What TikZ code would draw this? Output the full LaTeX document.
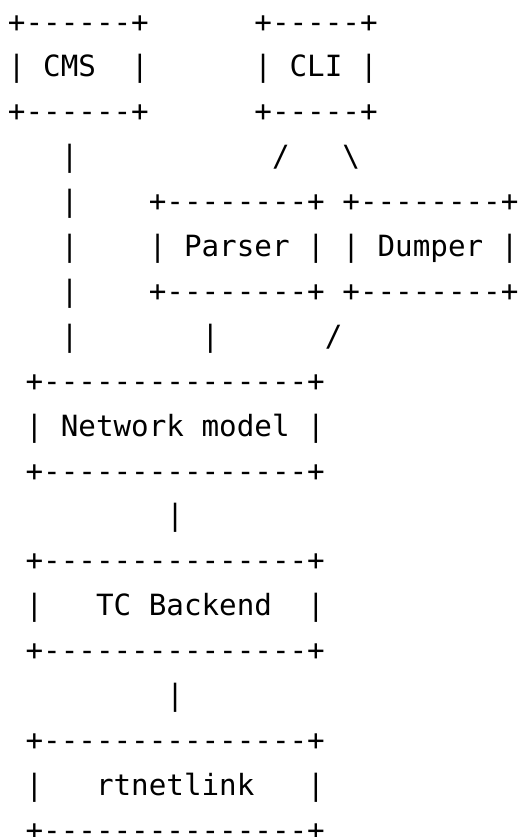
\documentclass[tikz,border=0pt]{standalone}
\usepackage{fontspec}
\newfontfamily\asciimono{DejaVu Sans Mono}
% one character cell: 17.6pt wide, 44.9pt tall; first baseline 32.1pt below the top
\newcommand\glyphrun[4]{\node[glyphs] (#1) at ({8+#2*17.6},{837-32.1-(#3-1)*44.9}) {#4};}
\begin{document}
\begin{tikzpicture}[x=1pt,y=1pt,
  glyphs/.style={font=\asciimono\fontsize{29.24}{35}\selectfont,
                 inner sep=0pt, outer sep=0pt, anchor=base west, text=black}]
\useasboundingbox (0,0) rectangle (518,837);

% CMS and CLI boxes
\glyphrun{cmsTop}{0}{1}{+------+}
\glyphrun{cmsL}{0}{2}{|}
\glyphrun{cms}{2}{2}{CMS}
\glyphrun{cmsR}{7}{2}{|}
\glyphrun{cmsBot}{0}{3}{+------+}
\glyphrun{cliTop}{14}{1}{+-----+}
\glyphrun{cliL}{14}{2}{|}
\glyphrun{cli}{16}{2}{CLI}
\glyphrun{cliR}{20}{2}{|}
\glyphrun{cliBot}{14}{3}{+-----+}

% links below CMS and CLI
\glyphrun{cmsLink4}{3}{4}{|}
\glyphrun{cliToParser}{15}{4}{/}
\glyphrun{cliToDumper}{19}{4}{\textbackslash}
\glyphrun{cmsLink5}{3}{5}{|}
\glyphrun{cmsLink6}{3}{6}{|}
\glyphrun{cmsLink7}{3}{7}{|}
\glyphrun{cmsLink8}{3}{8}{|}

% Parser and Dumper boxes
\glyphrun{pdTop}{8}{5}{+--------+}
\glyphrun{dTop}{19}{5}{+--------+}
\glyphrun{pL}{8}{6}{|}
\glyphrun{parser}{10}{6}{Parser}
\glyphrun{pR}{17}{6}{|}
\glyphrun{dL}{19}{6}{|}
\glyphrun{dumper}{21}{6}{Dumper}
\glyphrun{dR}{28}{6}{|}
\glyphrun{pBot}{8}{7}{+--------+}
\glyphrun{dBot}{19}{7}{+--------+}
\glyphrun{parserLink}{11}{8}{|}
\glyphrun{dumperLink}{18}{8}{/}

% Network model
\glyphrun{nmTop}{1}{9}{+---------------+}
\glyphrun{nmL}{1}{10}{|}
\glyphrun{netmodel}{3}{10}{Network model}
\glyphrun{nmR}{17}{10}{|}
\glyphrun{nmBot}{1}{11}{+---------------+}
\glyphrun{nmLink}{9}{12}{|}

% TC Backend
\glyphrun{tcTop}{1}{13}{+---------------+}
\glyphrun{tcL}{1}{14}{|}
\glyphrun{tcbackend}{5}{14}{TC Backend}
\glyphrun{tcR}{17}{14}{|}
\glyphrun{tcBot}{1}{15}{+---------------+}
\glyphrun{tcLink}{9}{16}{|}

% rtnetlink
\glyphrun{rtTop}{1}{17}{+---------------+}
\glyphrun{rtL}{1}{18}{|}
\glyphrun{rtnetlink}{5}{18}{rtnetlink}
\glyphrun{rtR}{17}{18}{|}
\glyphrun{rtBot}{1}{19}{+---------------+}
\end{tikzpicture}
\end{document}
